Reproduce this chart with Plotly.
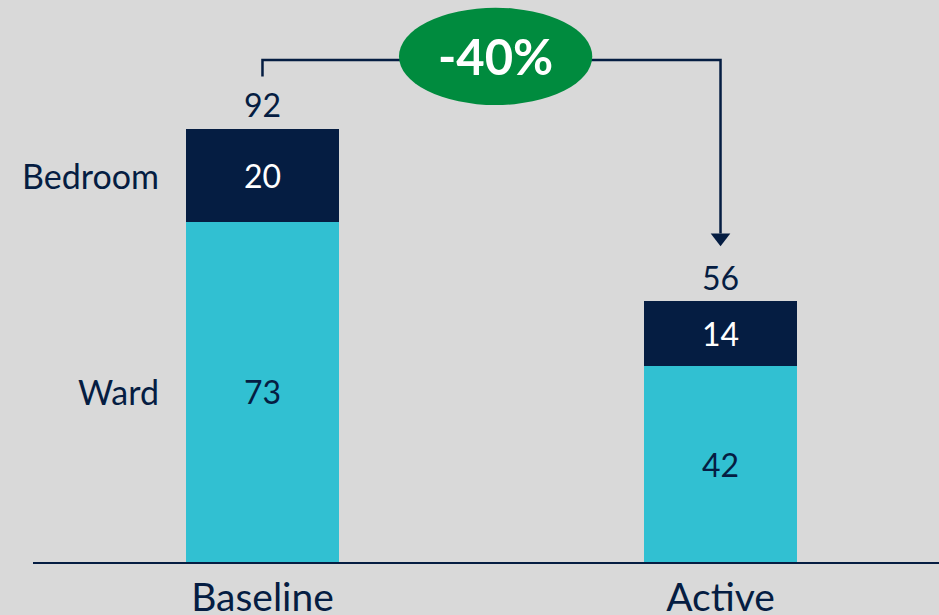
import plotly.graph_objects as go

categories = ["Baseline", "Active"]
ward = [73, 42]
bedroom = [20, 14]
totals = [92, 56]
series_names = ["Ward", "Bedroom"]
change_label = "-40%"

NAVY = "#051d42"
TEAL = "#31c0d2"
GREEN = "#008b3e"
BG = "#d9d9d9"
FONT = "Lato"

xs = list(range(len(categories)))
BAR_W = 0.334

fig = go.Figure()
fig.add_trace(go.Bar(
    x=xs, y=ward, width=BAR_W, marker=dict(color=TEAL, line=dict(width=0)),
    text=[str(v) for v in ward], textposition="inside", insidetextanchor="middle",
    textfont=dict(family=FONT, size=32, color=NAVY), textangle=0,
    hoverinfo="skip", name=series_names[0]))
fig.add_trace(go.Bar(
    x=xs, y=bedroom, width=BAR_W, marker=dict(color=NAVY, line=dict(width=0)),
    text=[str(v) for v in bedroom], textposition="inside", insidetextanchor="middle",
    textfont=dict(family=FONT, size=32, color="white"), textangle=0,
    hoverinfo="skip", name=series_names[1]))

# connector line
top_y = 107.7
fig.add_trace(go.Scatter(
    x=[xs[0], xs[0], xs[1], xs[1]], y=[104.2, top_y, top_y, 70.5],
    mode="lines", line=dict(color=NAVY, width=2.5), hoverinfo="skip", showlegend=False))
fig.add_trace(go.Scatter(
    x=[xs[1]], y=[69.6], mode="markers",
    marker=dict(symbol="triangle-down", size=17, color=NAVY, line=dict(width=0)),
    hoverinfo="skip", showlegend=False))

annotations = []
for i, t in enumerate(totals):
    annotations.append(dict(x=xs[i], y=ward[i] + bedroom[i], xref="x", yref="y",
                            text=str(t), showarrow=False, yanchor="middle", yshift=24,
                            font=dict(family=FONT, size=32, color=NAVY)))
annotations.append(dict(x=xs[0], y=ward[0] / 2, xref="x", yref="y", text=series_names[0],
                        showarrow=False, xanchor="right", xshift=-101,
                        font=dict(family=FONT, size=34, color=NAVY)))
annotations.append(dict(x=xs[0], y=ward[0] + bedroom[0] / 2, xref="x", yref="y", text=series_names[1],
                        showarrow=False, xanchor="right", xshift=-101,
                        font=dict(family=FONT, size=34, color=NAVY)))
annotations.append(dict(x=0.509, y=108.5, xref="x", yref="y", text="<b>" + change_label + "</b>",
                        showarrow=False, font=dict(family=FONT, size=49, color="white")))

fig.update_layout(
    width=939, height=615,
    margin=dict(l=33, r=0, t=0, b=53),
    paper_bgcolor=BG, plot_bgcolor=BG,
    barmode="stack", showlegend=False,
    annotations=annotations,
    shapes=[dict(type="circle", xref="x", yref="y", x0=0.509 - 0.211, x1=0.509 + 0.211,
                 y0=108.5 - 10.45, y1=108.5 + 10.45, fillcolor=GREEN, line=dict(width=0), layer="above")],
    xaxis=dict(range=[-0.501, 1.477], tickvals=xs, ticktext=categories, showgrid=False,
               zeroline=False, showline=True, linecolor=NAVY, linewidth=2, ticks="",
               automargin=False,
               tickfont=dict(family=FONT, size=39, color=NAVY), fixedrange=True),
    yaxis=dict(range=[0, 120.6], visible=False, showgrid=False, zeroline=False,
               automargin=False, fixedrange=True),
)

fig.write_html("out.html", config=dict(displayModeBar=False))
